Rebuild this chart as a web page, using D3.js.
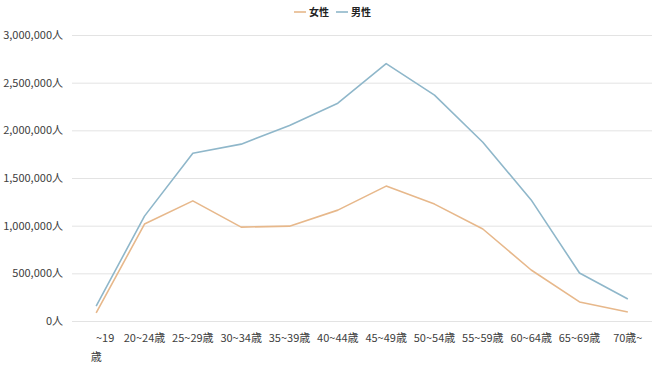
<!DOCTYPE html>
<html>
<head>
<meta charset="utf-8">
<script src="https://cdn.jsdelivr.net/npm/d3@7"></script>
<style>
  body { margin: 0; background: #fff; }
  text { font-family: "Noto Sans CJK JP", "Noto Sans", sans-serif; }
</style>
</head>
<body>
<svg id="chart"></svg>
<script>
// Chart data.
const ageGroups = ["~19歳", "20~24歳", "25~29歳", "30~34歳", "35~39歳", "40~44歳",
  "45~49歳", "50~54歳", "55~59歳", "60~64歳", "65~69歳", "70歳~"];
const female = [84000, 1017000, 1260000, 985000, 995000, 1163000,
  1415000, 1226000, 965000, 535000, 200000, 94000];
const male = [157000, 1100000, 1760000, 1855000, 2050000, 2285000,
  2700000, 2370000, 1875000, 1270000, 503000, 230000];
const yTicks = [0, 500000, 1000000, 1500000, 2000000, 2500000, 3000000];
const seriesNames = ["女性", "男性"];
const seriesColors = ["#e7b88b", "#8fb7ca"];

const width = 660;
const height = 371;
const margin = { top: 35, right: 8, bottom: 50, left: 72 };

const svg = d3.select("#chart").attr("width", width).attr("height", height);

function translate(x, y) {
  return "translate(" + x + "," + y + ")";
}

const xScale = d3.scaleBand()
  .domain(ageGroups)
  .range([margin.left, width - margin.right]);

const yScale = d3.scaleLinear()
  .domain([0, 3000000])
  .range([height - margin.bottom, margin.top]);

// Gridlines and y labels.
const fmt = d3.format(",");
const yAxis = d3.axisLeft(yScale)
  .tickValues(yTicks)
  .tickSize(-(width - margin.left - margin.right))
  .tickFormat(d => fmt(d) + "人")
  .tickPadding(9);

const yGroup = svg.append("g")
  .attr("transform", translate(margin.left, 0))
  .call(yAxis);
yGroup.select(".domain").remove();
yGroup.selectAll("line").attr("stroke", "#e3e3e3");
yGroup.selectAll("text")
  .attr("fill", "#404040")
  .style("font-size", "11px");

// X labels.
const xLabels = svg.append("g")
  .selectAll("text")
  .data(ageGroups)
  .enter()
  .append("text")
  .attr("x", d => xScale(d) + xScale.bandwidth() / 2)
  .attr("y", height - margin.bottom + 21)
  .attr("text-anchor", "middle")
  .attr("fill", "#404040")
  .style("font-size", "11px");

xLabels.each(function(d, i) {
  const t = d3.select(this);
  if (i == 0) {
    // first label wraps onto two lines
    t.append("tspan").attr("dx", 9).text("~19");
    t.append("tspan")
      .attr("x", xScale(d) + xScale.bandwidth() / 2)
      .attr("dy", 19)
      .text("歳");
  } else {
    t.text(d);
  }
});

// Lines.
const line = d3.line()
  .x((d, i) => xScale(ageGroups[i]) + xScale.bandwidth() / 2)
  .y(d => yScale(d));

[female, male].forEach((series, k) => {
  svg.append("path")
    .datum(series)
    .attr("fill", "none")
    .attr("stroke", seriesColors[k])
    .attr("stroke-width", 1.6)
    .attr("stroke-linejoin", "round")
    .attr("d", line);
});

// Legend.
const legend = svg.append("g").attr("transform", translate(294, 12));
const legendX = [0, 42];
seriesNames.forEach((name, k) => {
  const g = legend.append("g").attr("transform", translate(legendX[k], 0));
  g.append("line")
    .attr("x1", 0).attr("x2", 12)
    .attr("y1", 0).attr("y2", 0)
    .attr("stroke", seriesColors[k])
    .attr("stroke-width", 1.6);
  g.append("text")
    .attr("x", 15)
    .attr("y", 4)
    .attr("fill", "#222")
    .style("font-size", "10px")
    .style("font-weight", "bold")
    .text(name);
});
</script>
</body>
</html>
